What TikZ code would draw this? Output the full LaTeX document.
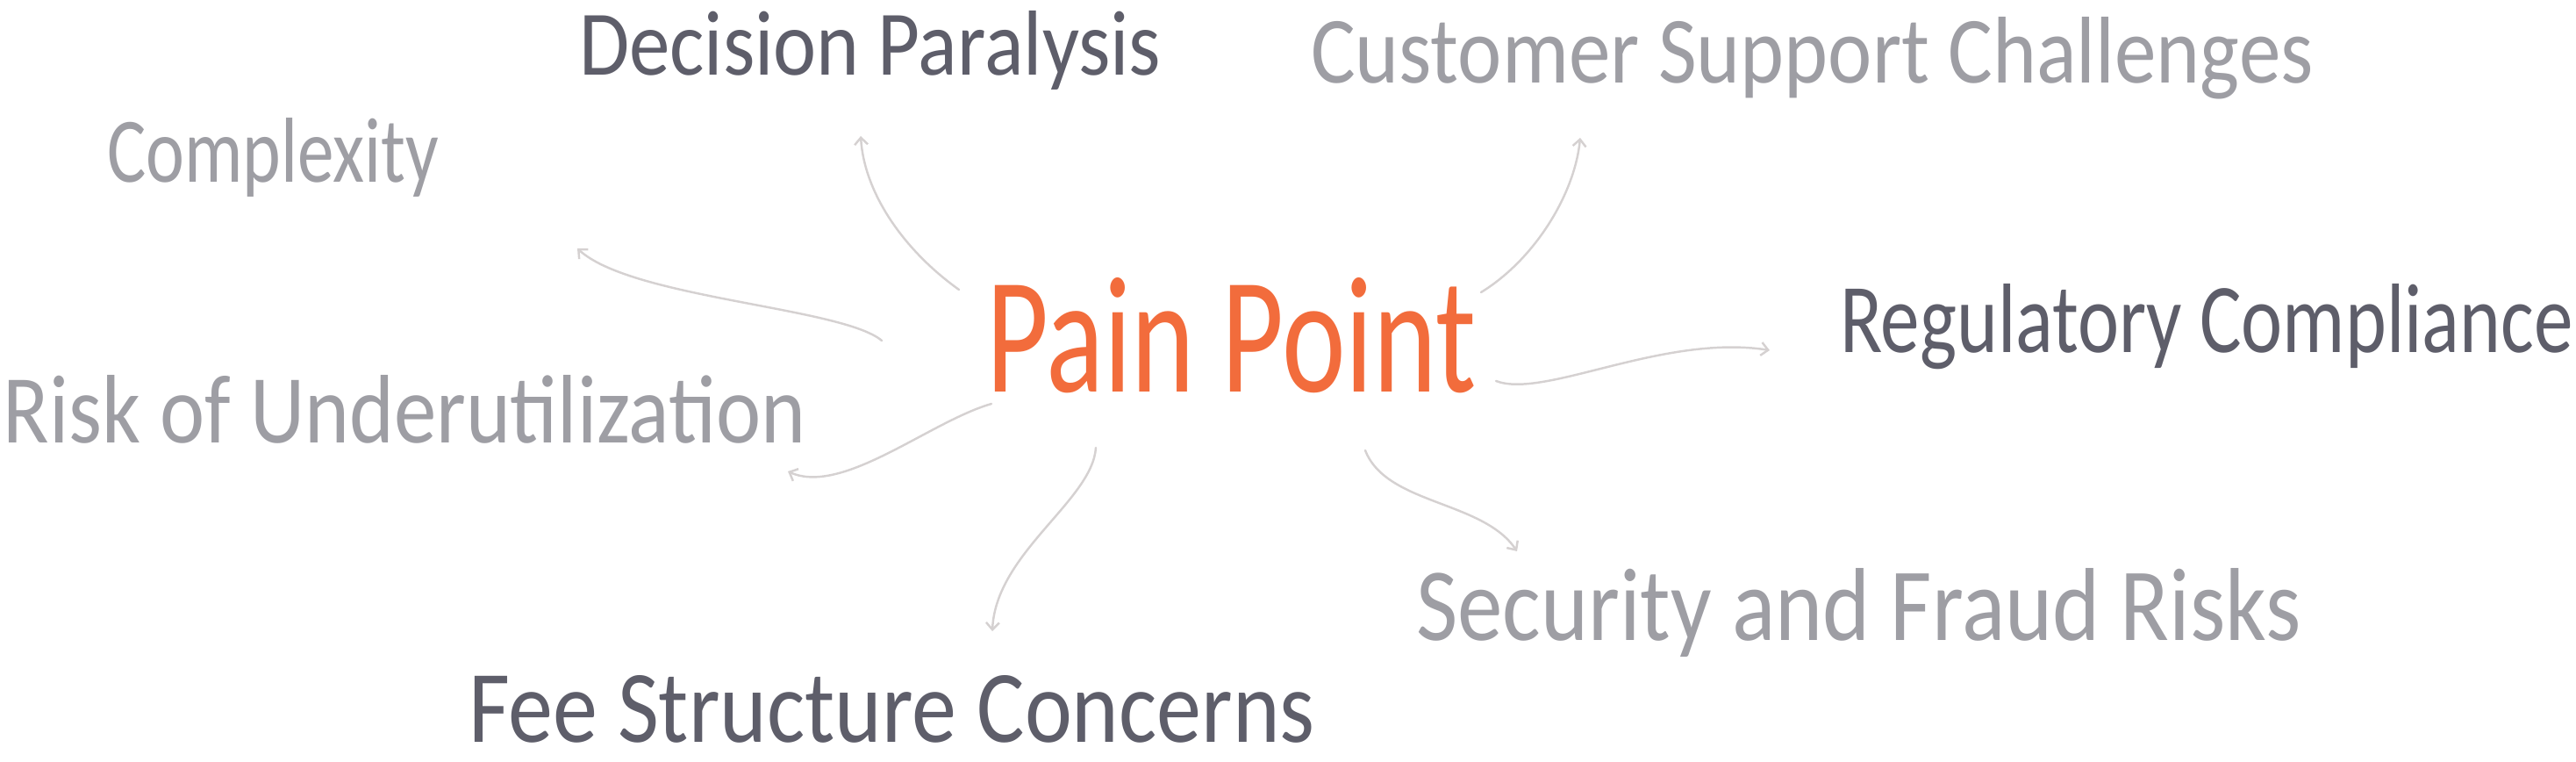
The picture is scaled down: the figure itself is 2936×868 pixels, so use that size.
\documentclass[tikz,border=0pt]{standalone}
\usepackage{fontspec}
\setmainfont{Carlito}
\usetikzlibrary{arrows.meta}
\definecolor{dark}{HTML}{5E5E6A}
\definecolor{soft}{HTML}{9E9EA4}
\definecolor{hot}{HTML}{F26C3C}
\definecolor{wire}{HTML}{D5D1D1}
\newcommand{\fitto}[3]{\resizebox{#1}{#2}{#3}}
\begin{document}
\begin{tikzpicture}[x=0.01cm,y=-0.01cm,
  lbl/.style={anchor=base west,inner sep=0pt,outer sep=0pt},
  link/.style={draw=wire,line width=0.7pt,line cap=round,
    -{Straight Barb[length=0.08cm,width=0.15cm]}}]
\useasboundingbox (0,0) rectangle (2936,868);
% labels
\node[lbl,text=hot]  (pp)  at (1124,447) {\fitto{5.58cm}{1.30cm}{Pain Point}};
\node[lbl,text=dark] (dp)  at (660,86)   {\fitto{6.63cm}{0.73cm}{Decision Paralysis}};
\node[lbl,text=soft] (csc) at (1494,95)  {\fitto{11.42cm}{0.75cm}{Customer Support Challenges}};
\node[lbl,text=soft] (cx)  at (122,208)  {\fitto{3.78cm}{0.73cm}{Complexity}};
\node[lbl,text=dark] (rc)  at (2097,402) {\fitto{8.35cm}{0.78cm}{Regulatory Compliance}};
\node[lbl,text=soft] (ru)  at (4,505)    {\fitto{9.14cm}{0.77cm}{Risk of Underutilization}};
\node[lbl,text=soft] (sfr) at (1614,730) {\fitto{10.08cm}{0.82cm}{Security and Fraud Risks}};
\node[lbl,text=dark] (fsc) at (534,846)  {\fitto{9.64cm}{0.76cm}{Fee Structure Concerns}};
% connector ends
\coordinate (s-dp)  at (1093,330); \coordinate (e-dp)  at (981,155);
\coordinate (s-csc) at (1688,333); \coordinate (e-csc) at (1801,157);
\coordinate (s-cx)  at (1005,388); \coordinate (e-cx)  at (658,283);
\coordinate (s-rc)  at (1705,434); \coordinate (e-rc)  at (2017,399);
\coordinate (s-ru)  at (1130,460); \coordinate (e-ru)  at (898,537);
\coordinate (s-fsc) at (1249,510); \coordinate (e-fsc) at (1131,719);
\coordinate (s-sfr) at (1556,513); \coordinate (e-sfr) at (1729,628);
% connectors
\draw[link] (s-dp)  .. controls (1030,285) and (985,220) .. (e-dp);
\draw[link] (s-csc) .. controls (1750,295) and (1795,220) .. (e-csc);
\draw[link] (s-cx)  .. controls (960,350) and (720,340) .. (e-cx);
\draw[link] (s-rc)  .. controls (1760,455) and (1895,380) .. (e-rc);
\draw[link] (s-ru)  .. controls (1060,480) and (960,565) .. (e-ru);
\draw[link] (s-fsc) .. controls (1245,570) and (1135,630) .. (e-fsc);
\draw[link] (s-sfr) .. controls (1580,575) and (1690,570) .. (e-sfr);
\end{tikzpicture}
\end{document}
